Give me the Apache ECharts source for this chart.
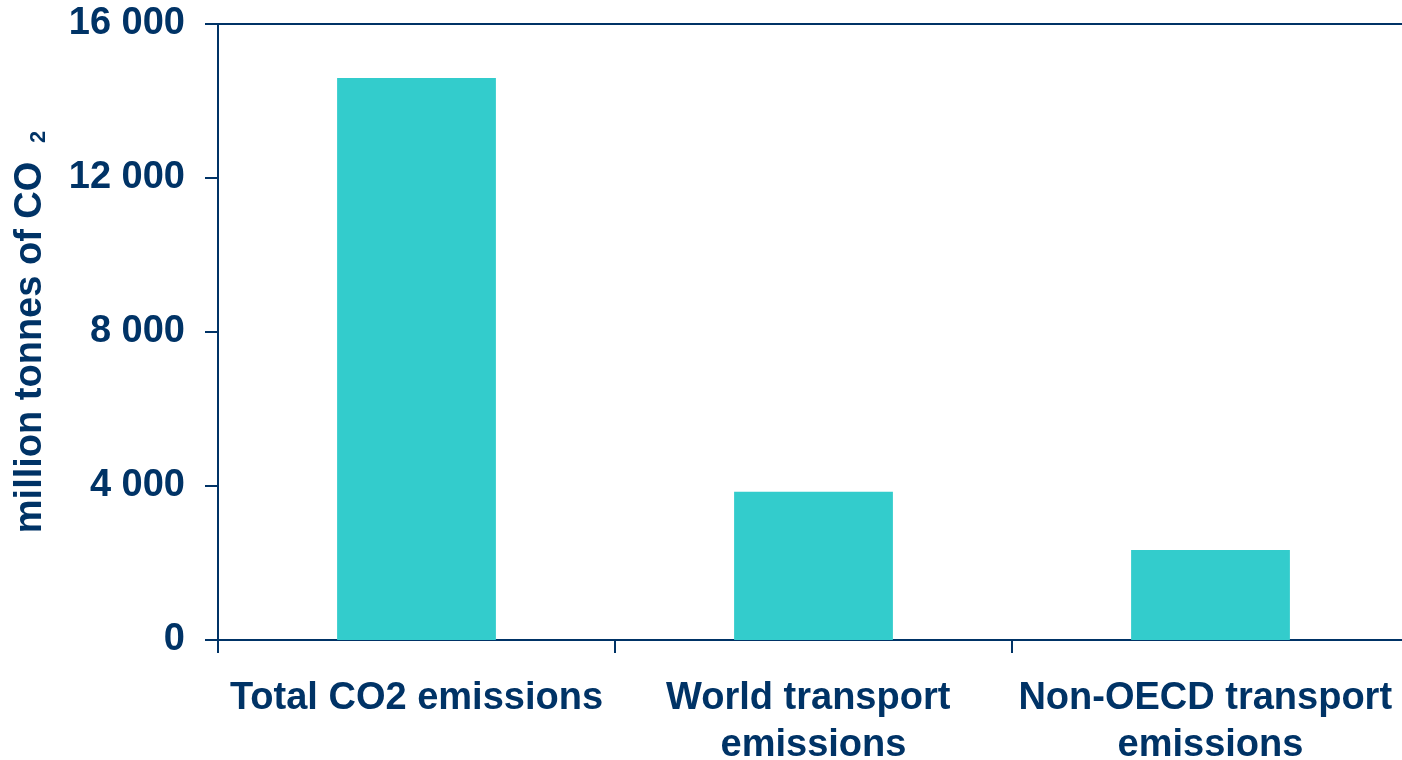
<!DOCTYPE html>
<html>
<head>
<meta charset="utf-8">
<style>
  html, body { margin: 0; padding: 0; background: #fff; }
  #chart { width: 1402px; height: 760px; }
</style>
<script src="https://cdn.jsdelivr.net/npm/echarts@6/dist/echarts.min.js"></script>
</head>
<body>
<div id="chart"></div>
<script>
// data
const categories = ['Total CO2 emissions', 'World transport emissions', 'Non-OECD transport emissions'];
const emissions = [14600, 3850, 2340];
const yTicks = [0, 4000, 8000, 12000, 16000];

const navy = '#003366';
const teal = '#33cccc';
const font = 'Arial, "Liberation Sans", sans-serif';

function spaced(v){
  return String(v).replace(/\B(?=(\d{3})+(?!\d))/g, ' ');
}

const chart = echarts.init(document.getElementById('chart'));
chart.setOption({
  animation: false,
  grid: { left: 218, right: -7, top: 24, bottom: 120, containLabel: false, outerBoundsMode: 'none' },
  xAxis: [
    {
      type: 'category',
      data: categories,
      axisLine: { lineStyle: { color: navy, width: 2 } },
      axisTick: { show: true, length: 13, lineStyle: { color: navy, width: 2 } },
      axisLabel: {
        color: navy, fontFamily: font, fontWeight: 'bold', fontSize: 38,
        lineHeight: 47, margin: 35, width: 395, overflow: 'break', interval: 0
      }
    },
    {
      type: 'category',
      position: 'top',
      data: categories,
      axisLine: { lineStyle: { color: navy, width: 2 } },
      axisTick: { show: false },
      axisLabel: { show: false }
    }
  ],
  yAxis: {
    type: 'value',
    min: yTicks[0],
    max: yTicks[yTicks.length - 1],
    interval: yTicks[1] - yTicks[0],
    name: 'million tonnes of CO {sub|2}',
    nameLocation: 'middle',
    nameGap: 168,
    nameTextStyle: {
      color: navy, fontFamily: font, fontWeight: 'bold', fontSize: 38,
      rich: {
        sub: { color: navy, fontFamily: font, fontWeight: 'bold', fontSize: 22, verticalAlign: 'bottom', padding: [0, 0, 0, 8] }
      }
    },
    axisLine: { show: true, lineStyle: { color: navy, width: 2 } },
    axisTick: { show: true, length: 13, lineStyle: { color: navy, width: 2 } },
    axisLabel: {
      color: navy, fontFamily: font, fontWeight: 'bold', fontSize: 38, margin: 33,
      formatter: spaced
    },
    splitLine: { show: false }
  },
  series: [{
    type: 'bar',
    data: emissions,
    barWidth: '40%',
    itemStyle: { color: teal }
  }]
});
</script>
</body>
</html>
